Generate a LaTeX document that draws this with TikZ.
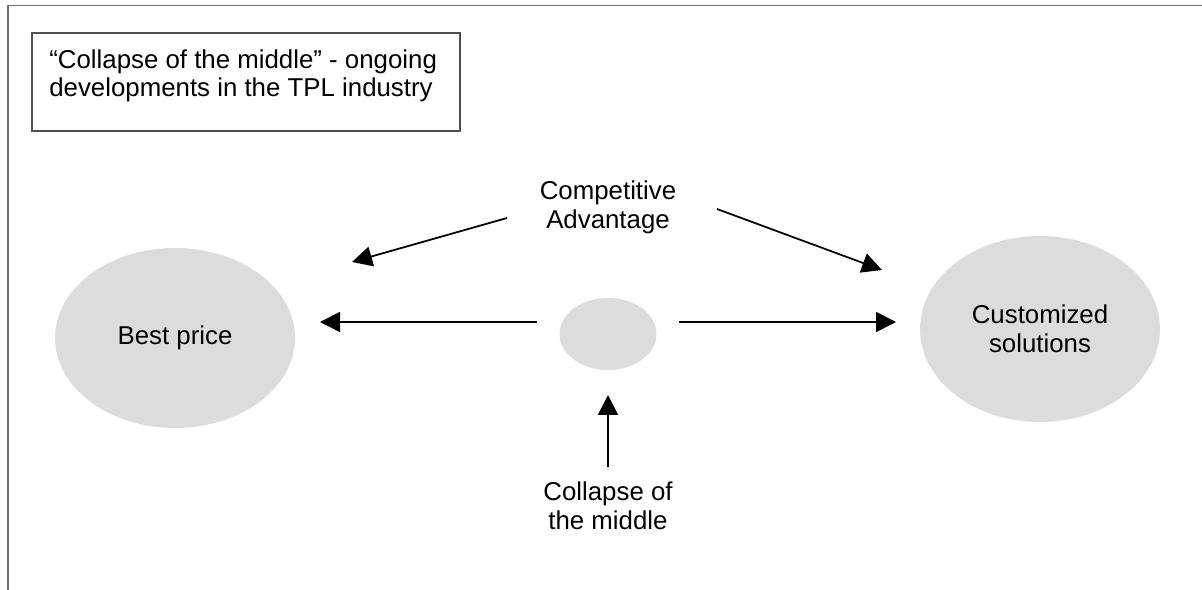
\documentclass[tikz,border=0pt]{standalone}
\usepackage{fontspec}
\setmainfont{Liberation Sans}
\usetikzlibrary{arrows.meta,shapes.geometric}
\definecolor{framegray}{HTML}{707070}
\definecolor{boxgray}{HTML}{505050}
\definecolor{blobfill}{HTML}{DCDCDC}
\begin{document}
\begin{tikzpicture}[x=0.02cm,y=-0.02cm,
  every node/.style={font=\fontsize{14.7}{16.4}\selectfont, text=black},
  frameline/.style={draw=framegray, line width=1.1pt},
  titlebox/.style={draw=boxgray, line width=0.7pt},
  blob/.style={ellipse, fill=blobfill, draw=none, inner sep=0pt, align=center},
  caption/.style={align=center, inner sep=0pt},
  arr/.style={line width=1pt, -{Triangle[length=0.4cm,width=0.4cm]}}]
\useasboundingbox (0,0) rectangle (1202,590);

% outer frame (top and left edges only)
\draw[frameline] (8,590) -- (8,5.5) -- (1202,5.5);

% title box
\draw[titlebox] (32,33) rectangle (460,131);
\node[anchor=north west, align=left, inner sep=0pt] (title) at (49,49)
  {“Collapse of the middle” - ongoing\\developments in the TPL industry};

% ellipses
\node[blob, minimum width=4.8cm, minimum height=3.6cm] (best) at (175,338) {Best price};
\node[blob, minimum width=4.8cm, minimum height=3.72cm] (cust) at (1040,329) {Customized\\solutions};
\node[blob, minimum width=1.94cm, minimum height=1.44cm] (mid) at (608,334) {};

% captions
\node[caption] (comp) at (608,207) {Competitive\\Advantage};
\node[caption] (coll) at (608,506) {Collapse of\\the middle};

% arrow end points
\coordinate (lhs) at (537,322);
\coordinate (lht) at (320,322);
\coordinate (rhs) at (679,322);
\coordinate (rht) at (896,322);
\coordinate (lds) at (507,218);
\coordinate (ldt) at (352,262);
\coordinate (rds) at (717,209);
\coordinate (rdt) at (882,270);
\coordinate (vs) at (608,467);
\coordinate (vt) at (608,395);

% arrows
\draw[arr] (lhs) -- (lht);
\draw[arr] (rhs) -- (rht);
\draw[arr] (lds) -- (ldt);
\draw[arr] (rds) -- (rdt);
\draw[arr] (vs) -- (vt);
\end{tikzpicture}
\end{document}
